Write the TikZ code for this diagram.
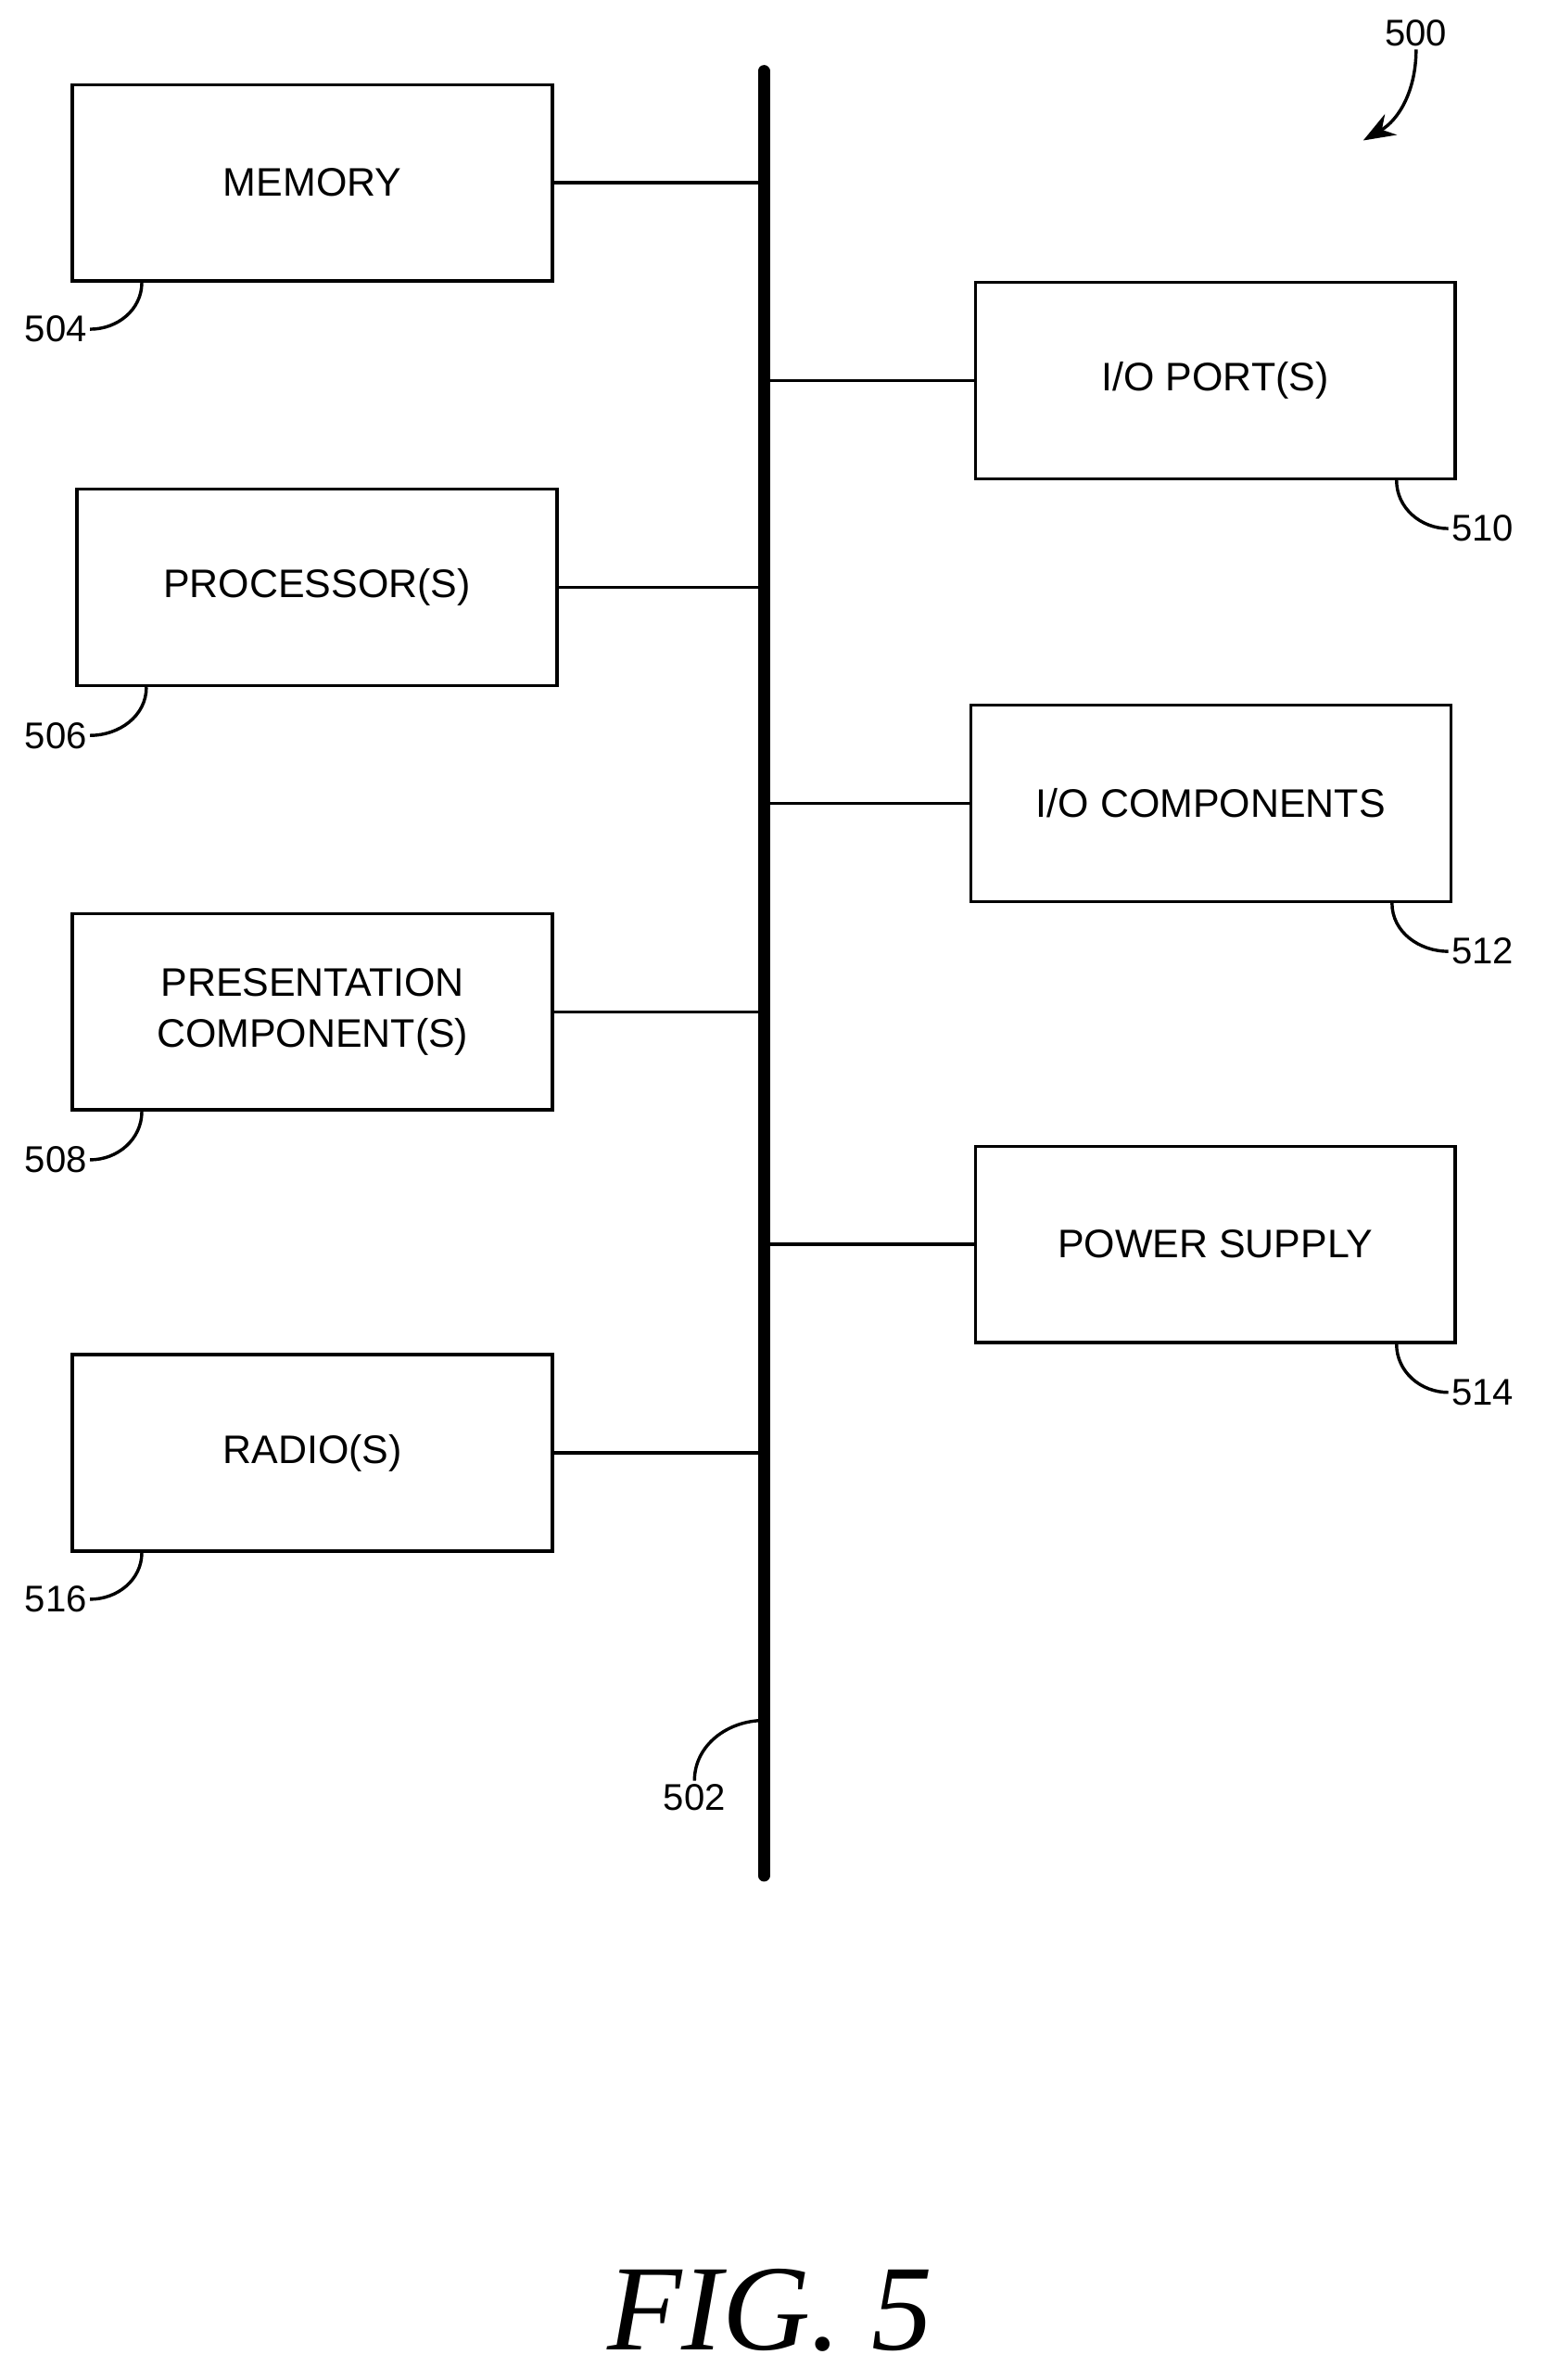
\documentclass[tikz,border=0pt]{standalone}
\usepackage{fontspec}
\setmainfont{Liberation Sans}
\newfontfamily\figfont{Liberation Serif}
\usetikzlibrary{positioning}
\usetikzlibrary{calc}
\usetikzlibrary{arrows.meta}

\newcommand{\pxu}{*0.02cm}
\tikzset{
	block/.style={draw, line width=1.2pt, minimum width=318\pxu, minimum height=130\pxu,
		align=center, font=\fontsize{15}{19}\selectfont},
	refnum/.style={font=\fontsize{14}{16}\selectfont, inner sep=1pt},
	leader/.style={line width=1.2pt}
}

\begin{document}
\begin{tikzpicture}[x=0.02cm, y=-0.02cm]
\useasboundingbox (0,0) rectangle (1024,1576);

% ---

\node[block] (memory) at (207,121) {MEMORY};
\node[block] (processor) at (210,389) {PROCESSOR(S)};
\node[block] (presentation) at (207,670) {PRESENTATION\\COMPONENT(S)};
\node[block] (radio) at (207,962) {RADIO(S)};
\node[block] (ioport) at (805,252) {I/O PORT(S)};
\node[block] (iocomp) at (802,532) {I/O COMPONENTS};
\node[block] (power) at (805,824) {POWER SUPPLY};

% bus

\coordinate (busTop) at (506,47);
\coordinate (busBottom) at (506,1242);
\draw[line width=4.5pt, line cap=round] (busTop) -- (busBottom);

\foreach \n in {memory, processor, presentation, radio}
	\draw[leader] (\n.east) -- (\n.east -| busTop);
\foreach \n in {ioport, iocomp, power}
	\draw[leader] (\n.west) -- (\n.west -| busTop);

% ---

\node[refnum] (num504) at (37,218) {504};
\node[refnum] (num506) at (37,487) {506};
\node[refnum] (num508) at (37,768) {508};
\node[refnum] (num516) at (37,1059) {516};
\foreach \n/\b in {num504/memory, num506/processor, num508/presentation, num516/radio}
	\draw[leader] (\n.east) to[out=0, in=-90] ($(\b.south west)+(47,0)$);

\node[refnum] (num510) at (982,350) {510};
\node[refnum] (num512) at (982,630) {512};
\node[refnum] (num514) at (982,922) {514};
\foreach \n/\b in {num510/ioport, num512/iocomp, num514/power}
	\draw[leader] (\n.west) to[out=180, in=-90] ($(\b.south east)+(-40,0)$);

\node[refnum] (num502) at (460,1190) {502};
\draw[leader] (num502.north) to[out=90, in=180] ($(busTop)!0.914!(busBottom)$);

\node[refnum] (num500) at (938,22) {500};
\coordinate (arrow500) at (903,93);
\draw[leader, -{Stealth[length=12pt, width=9pt]}] (num500.south) to[out=-90, in=30] (arrow500);

\node[font=\figfont\itshape\fontsize{46}{50}\selectfont] (figlabel) at (510,1530) {FIG. 5};

\end{tikzpicture}
\end{document}
